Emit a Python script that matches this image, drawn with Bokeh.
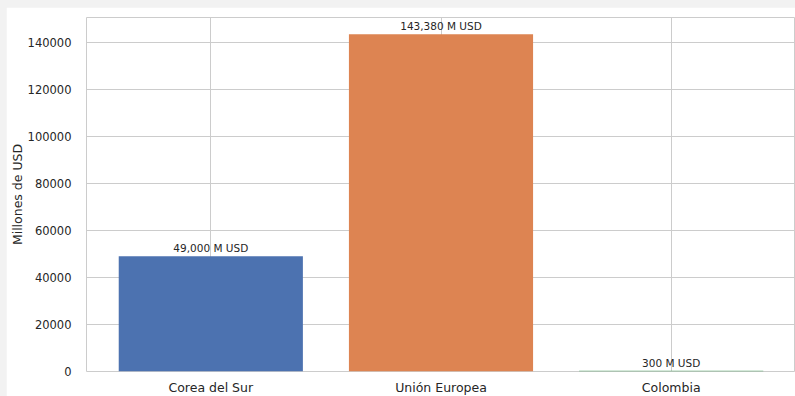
from bokeh.plotting import figure
from bokeh.models import FactorRange, Range1d, SingleIntervalTicker, ColumnDataSource, NumeralTickFormatter
from bokeh.core.properties import value
from bokeh.embed import file_html
from bokeh.resources import INLINE

countries = ["Corea del Sur", "Unión Europea", "Colombia"]
amounts = [49000, 143380, 300]
colors = ["#4C72B0", "#DD8452", "#55A868"]
labels = [f"{v:,} M USD" for v in amounts]
y_label = "Millones de USD"

FONT = "DejaVu Sans"
TXT = "#262626"
GRID = "#cccccc"

src = ColumnDataSource(dict(x=countries, top=amounts, color=colors, label=labels))

p = figure(
    frame_width=709, frame_height=354,
    x_range=FactorRange(*countries, range_padding=0.04, range_padding_units="absolute"),
    y_range=Range1d(0, max(amounts) * 1.05),
    output_backend="svg", toolbar_location=None,
    min_border_left=80, min_border_top=10, min_border_right=0, min_border_bottom=10,
)
p.background_fill_color = "white"
p.border_fill_color = "white"
p.outline_line_color = GRID
p.outline_line_width = 1

p.vbar(x="x", top="top", width=0.8, fill_color="color", line_color=None, source=src)
p.text(x="x", y="top", text="label", source=src, text_align="center", text_baseline="bottom",
       y_offset=-2, text_font=value(FONT), text_font_size="10.5px", text_color=TXT)

p.yaxis.ticker = SingleIntervalTicker(interval=20000)
p.yaxis.formatter = NumeralTickFormatter(format="0")
p.yaxis.axis_label = y_label
for ax in (p.xaxis[0], p.yaxis[0]):
    ax.axis_line_color = None
    ax.major_tick_line_color = None
    ax.minor_tick_line_color = None
    ax.major_label_text_font = FONT
    ax.major_label_text_color = TXT
    ax.axis_label_text_font = FONT
    ax.axis_label_text_color = TXT
    ax.axis_label_text_font_style = "normal"
    ax.axis_label_text_font_size = "12.5px"
p.yaxis.major_label_text_font_size = "11.5px"
p.yaxis.major_label_standoff = 9
p.yaxis.axis_label_standoff = 0
p.xaxis.major_label_text_font_size = "12.5px"
p.xaxis.major_label_standoff = 2

p.xgrid.grid_line_color = GRID
p.ygrid.grid_line_color = GRID

html = file_html(p, INLINE)
css = "<style>html,body{background:#f2f2f2 !important;overflow:hidden !important;}body{padding:7px 0 0 6px !important;}</style>"
html = html.replace("</head>", css + "</head>", 1)
open("out.html", "w").write(html)
